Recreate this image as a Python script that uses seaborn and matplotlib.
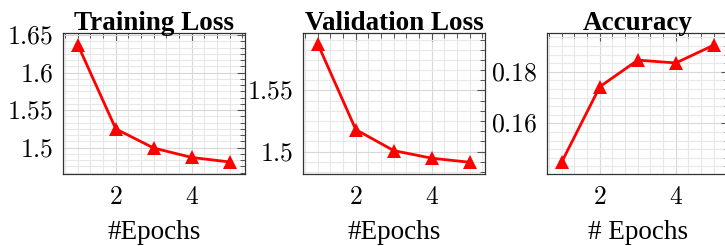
import matplotlib
matplotlib.use('Agg')
import matplotlib.pyplot as plt
import seaborn as sns
import pandas as pd
from matplotlib.ticker import MultipleLocator, AutoMinorLocator, FuncFormatter

epochs = [1, 2, 3, 4, 5]
train_loss = [1.637, 1.525, 1.4995, 1.487, 1.481]
val_loss = [1.588, 1.518, 1.5008, 1.4946, 1.4913]
accuracy = [0.1451, 0.1742, 0.1845, 0.1834, 0.1903]

titles = ["Training Loss", "Validation Loss", "Accuracy"]
xlabels = ["#Epochs", "#Epochs", "# Epochs"]
series = [train_loss, val_loss, accuracy]
ylims = [(1.465, 1.6527), (1.4817, 1.597), (0.1404, 0.195)]
ysteps = [0.05, 0.05, 0.02]

sns.set_style("white")
plt.rcParams['mathtext.fontset'] = 'cm'
plt.rcParams['font.family'] = ['Liberation Serif', 'DejaVu Serif']
plt.rcParams['text.color'] = 'black'
plt.rcParams['axes.labelcolor'] = 'black'
plt.rcParams['xtick.labelcolor'] = 'black'
plt.rcParams['ytick.labelcolor'] = 'black'

W, H = 725, 246
fig = plt.figure(figsize=(W / 100, H / 100), dpi=100)
lefts = [63, 303, 547]

fmt = FuncFormatter(lambda v, p: "$%g$" % round(v, 4))

for i in range(3):
    ax = fig.add_axes([lefts[i] / W, (H - 174) / H, 182 / W, 141 / H])
    df = pd.DataFrame({"epoch": epochs, "value": series[i]})
    sns.lineplot(data=df, x="epoch", y="value", ax=ax, color="#ff0000",
                 marker="^", markersize=10.5, markeredgewidth=0,
                 linewidth=2, zorder=5)
    ax.set_xlim(0.61, 5.4)
    ax.set_ylim(*ylims[i])
    ax.xaxis.set_major_locator(MultipleLocator(2))
    ax.xaxis.set_minor_locator(AutoMinorLocator(6))
    ax.yaxis.set_major_locator(MultipleLocator(ysteps[i]))
    ax.yaxis.set_minor_locator(AutoMinorLocator(6))
    ax.xaxis.set_major_formatter(fmt)
    ax.yaxis.set_major_formatter(fmt)
    ax.grid(which="major", color="#d8d8d8", linewidth=0.8)
    ax.grid(which="minor", color="#e8e8e8", linewidth=0.8)
    ax.set_axisbelow(True)
    ax.tick_params(which="both", direction="in", top=True, right=True,
                   color="#555555", labelsize=18.5)
    ax.tick_params(which="major", length=6, width=0.8, pad=7)
    ax.tick_params(axis="x", which="major", pad=9)
    ax.tick_params(which="minor", length=3.5, width=0.7)
    for s in ax.spines.values():
        s.set_color("#333333")
        s.set_linewidth(0.9)
    ax.set_title(titles[i], fontsize=19.5, fontweight="bold", pad=2)
    ax.set_xlabel(xlabels[i], fontsize=19.5, labelpad=8)
    ax.set_ylabel("")

fig.savefig("out.png", dpi=100)
